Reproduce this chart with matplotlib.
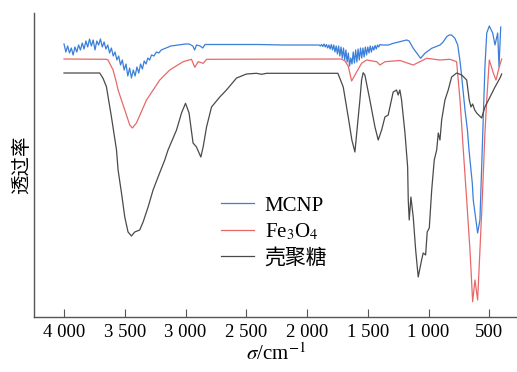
import matplotlib
matplotlib.use('Agg')
import matplotlib.pyplot as plt

plt.rcParams['font.family'] = ['Liberation Serif', 'Noto Sans CJK SC']
plt.rcParams['mathtext.fontset'] = 'stix'

# wavenumber (cm-1) and transmittance (arbitrary units)
chitosan_x = [4000, 3706, 3679, 3651, 3610, 3568, 3555, 3527, 3500, 3473, 3445, 3418, 3377,
              3349, 3308, 3267, 3226, 3171, 3144, 3074, 3033, 3000, 2971, 2938, 2910, 2874,
              2855, 2827, 2786, 2718, 2663, 2580, 2498, 2416, 2374, 2333, 1746, 1702, 1661,
              1631, 1606, 1565, 1551, 1538, 1524, 1483, 1441, 1414, 1386, 1359, 1332, 1291,
              1263, 1250, 1236, 1222, 1194, 1172, 1167, 1159, 1145, 1126, 1106, 1085, 1057,
              1044, 1024, 1011, 994, 974, 953, 933, 920, 906, 892, 865, 838, 810, 769, 727,
              686, 665, 651, 637, 620, 604, 563, 536, 494, 453, 412, 398]
chitosan_y = [244, 244, 238.7, 230.3, 200.3, 167, 147, 124, 100, 85, 81, 85, 87,
              95, 110, 127, 140, 157, 167, 187, 204, 213.7, 204, 174, 170, 160,
              170, 190, 210, 220, 227, 239, 243, 243.7, 242.7, 243.7, 243.7, 230, 200,
              177, 165, 217, 237, 244.3, 242, 217, 190, 177, 187, 200, 202, 225,
              227, 222, 227, 217, 184, 150, 117, 97, 120, 100, 67, 40, 57,
              64, 62, 85, 89, 127, 157, 167, 184, 177, 197, 217, 227, 240, 244, 242,
              237, 217, 210, 213, 207, 204, 199, 210, 220, 230, 239, 243]

fe3o4_x = [4000, 3651, 3638, 3596, 3568, 3555, 3500, 3459, 3437, 3404, 3321, 3239, 3212,
           3130, 3020, 2951, 2924, 2896, 2855, 2827, 1716, 1688, 1661, 1633, 1592, 1551,
           1510, 1427, 1400, 1359, 1236, 1126, 1071, 1016, 906, 824, 769, 741, 714, 686,
           659, 637, 618, 596, 577, 558, 536, 521, 500, 467, 445, 418, 398]
fe3o4_y = [258, 257.7, 257, 247, 234, 227, 207, 192, 189, 194, 217, 232, 237,
           247, 255.3, 257.7, 249.7, 255.3, 253.7, 257.7, 258, 256, 251, 236, 245, 253.7,
           257, 255.3, 252, 255.3, 256.5, 252, 255.3, 258.7, 257, 257.7, 255.3, 217, 167, 117,
           67, 15.3, 37, 17, 67, 117, 184, 217, 257, 244, 237, 250, 258]

mcnp_x = [4000, 3985, 3970, 3955, 3940, 3925, 3910, 3895, 3880, 3865, 3850, 3835, 3820,
          3805, 3790, 3775, 3760, 3745, 3730, 3715, 3700, 3685, 3670, 3655, 3640, 3625,
          3610, 3595, 3580, 3565, 3550, 3535, 3520, 3505, 3490, 3475, 3460, 3445, 3430,
          3415, 3400, 3385, 3370, 3355, 3340, 3325, 3310, 3295, 3280, 3260, 3240, 3220,
          3200, 3180, 3150, 3120, 3090, 3060, 3030, 3000, 2970, 2940, 2925, 2910, 2880,
          2858, 2840, 2600, 2400, 2200, 2050,
          1900, 1890, 1880, 1870, 1860, 1850, 1840, 1830, 1820, 1810, 1800, 1790, 1780,
          1770, 1760, 1750, 1740, 1730, 1720, 1710, 1700, 1690, 1680, 1670, 1660, 1650,
          1640, 1630, 1620, 1610, 1600, 1590, 1580, 1570, 1560, 1550, 1540, 1530, 1520,
          1510, 1500, 1490, 1480, 1470, 1460, 1450, 1440, 1430, 1420, 1410, 1400, 1385,
          1330, 1290, 1236, 1180, 1160, 1126, 1085, 1065, 1030, 974, 906, 880, 851, 830,
          810, 783, 760, 740, 727, 700, 680, 667, 640, 632, 596, 577, 563, 549, 536, 521,
          500, 472, 453, 431, 420, 406]
mcnp_y = [273, 265, 271, 264, 269, 262, 270, 265, 272, 267, 274, 268, 276,
          270, 278, 271, 277, 267, 276, 272, 278, 270, 275, 268, 272, 264,
          269, 261, 265, 257, 261, 252, 257, 247, 253, 241, 249, 239, 247,
          241, 250, 244, 253, 248, 256, 253, 259, 257, 262, 261, 265, 264,
          267, 268, 269.5, 271, 271.5, 272, 272.5, 273, 273, 271, 267, 272, 271,
          269, 272.5, 272.5, 272.5, 272, 272,
          272, 271, 272.5, 270.5, 273, 270, 272.5, 269, 272, 268, 272.5, 267, 272,
          265, 271, 263, 271, 261, 270, 259, 269, 257, 267, 255, 264, 251,
          259, 253, 265, 254, 267, 255, 268, 257, 269, 259, 269, 260, 270,
          262, 270, 264, 271, 265, 270.5, 267, 271.5, 268, 272, 270, 272.5, 272,
          272, 273.7, 275.3, 277, 276, 268.7, 262, 258.7, 263.7, 268.7, 272, 275, 280.3, 282,
          282, 278.7, 272, 255, 240, 207, 187, 167, 134, 117, 84, 97, 150, 200, 250, 284,
          291, 284, 272, 284, 250, 290]

fig = plt.figure(figsize=(5.17, 3.72), dpi=100)
ax = fig.add_axes([34 / 517, 55 / 372, 483 / 517, 304 / 372])

ax.plot(mcnp_x, mcnp_y, color='#3b7fd9', lw=0.9, label='MCNP')
ax.plot(fe3o4_x, fe3o4_y, color='#e8686a', lw=0.9, label='Fe$_3$O$_4$')
ax.plot(chitosan_x, chitosan_y, color='#4a4a4a', lw=0.9, label='壳聚糖')

ax.set_xlim(4247, 272)
ax.set_ylim(0, 304)
ax.set_xticks([4000, 3500, 3000, 2500, 2000, 1500, 1000, 500])
ax.set_xticklabels(['4 000', '3 500', '3 000', '2 500', '2 000', '1 500', '1 000', '500'])
ax.set_yticks([])
ax.tick_params(axis='x', direction='in', length=6, width=0.8, color='#555555',
               labelsize=13.5, pad=5)

for s in ['top', 'right']:
    ax.spines[s].set_visible(False)
for s in ['left', 'bottom']:
    ax.spines[s].set_color('#555555')
    ax.spines[s].set_linewidth(1.0)

ax.set_xlabel(r'$\sigma$/cm$^{-1}$', fontsize=15, labelpad=2)
ax.set_ylabel('透过率', fontsize=14, labelpad=2)

ax.legend(loc='upper left', bbox_to_anchor=(221 / 517, 1 - 196 / 372),
          bbox_transform=fig.transFigure, frameon=False, fontsize=15,
          handlelength=1.6, handletextpad=0.5, labelspacing=0.3,
          borderpad=0, borderaxespad=0)

plt.savefig('out.png', dpi=100)
